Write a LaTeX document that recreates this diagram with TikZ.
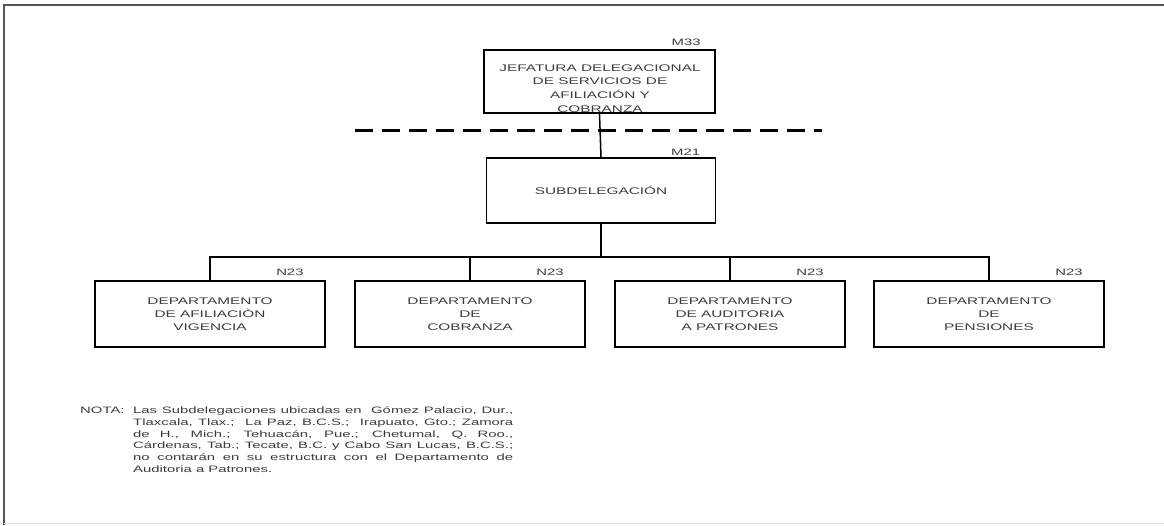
\documentclass[tikz,border=0pt]{standalone}
\usepackage{fontspec}
\setmainfont{Liberation Sans}
\newfontfamily\boxfont[FakeStretch=1.6]{Liberation Sans}
\newfontfamily\notefont[FakeStretch=1.6]{Liberation Sans}
\usetikzlibrary{positioning}
\definecolor{FGray}{RGB}{85,85,85}
\definecolor{TGray}{RGB}{60,60,60}

\begin{document}
\begin{tikzpicture}[
    x=1pt, y=-1pt,
    unit/.style={
      draw,
      line width=1.5pt,
      minimum width=230pt,
      minimum height=65pt,
      inner sep=0pt,
      align=center,
      text=TGray,
      font=\boxfont\fontsize{9.6}{13.3}\selectfont
    },
    unittext/.style={
      inner sep=0pt,
      align=center,
      text=TGray,
      font=\boxfont\fontsize{9.6}{13.7}\selectfont
    },
    level/.style={
      inner sep=0pt,
      text=TGray,
      font=\boxfont\fontsize{9.3}{10}\selectfont
    },
    notetext/.style={
      inner sep=0pt,
      text=TGray,
      font=\notefont\fontsize{9.3}{11.8}\selectfont
    },
    link/.style={line width=1.5pt}
  ]
    \useasboundingbox (0,0) rectangle (1164,525);
    \draw[FGray, line width=2pt] (4,525) -- (4,5) -- (1164,5);
    \draw[black!12, line width=1pt] (4,523) -- (1164,523);

    \node[unit, minimum width=231pt, minimum height=63pt] (jefatura) at (599.5,81.5) {};
    \node[unittext] (jefaturatext) at (600,88.5) {JEFATURA DELEGACIONAL\\DE SERVICIOS DE\\AFILIACIÓN Y\\COBRANZA};
    \node[unit, minimum width=229pt] (subdelegacion) at (601,190.5) {SUBDELEGACIÓN};

    \node[unit, minimum height=66pt] (afiliacion) at (210,314) {DEPARTAMENTO\\DE AFILIACIÒN\\VIGENCIA};
    \node[unit, minimum height=66pt] (cobranza) at (470,314) {DEPARTAMENTO\\DE\\COBRANZA};
    \node[unit, minimum height=66pt] (auditoria) at (730,314) {DEPARTAMENTO\\DE AUDITORIA\\A PATRONES};
    \node[unit, minimum height=66pt] (pensiones) at (989,314) {DEPARTAMENTO\\DE\\PENSIONES};

    \node[level, above left=3pt and 15pt of jefatura.north east] (m33) {M33};
    \node[level, above left=2pt and 16pt of subdelegacion.north east] (m21) {M21};
    \foreach \dept in {afiliacion,cobranza,auditoria,pensiones}
      \node[level, above left=4pt and 22pt of \dept.north east] (n23\dept) {N23};

    % linea de corte
    \coordinate (cutleft) at (355,130);
    \coordinate (cutright) at (822,130);
    \draw[line width=3pt, dash pattern=on 18pt off 9pt] (cutleft) -- (cutright);

    \draw[link] (jefatura.south) -- (subdelegacion.north);
    \draw[link] (subdelegacion.south) -- ++(0,33) coordinate (bus);
    \draw[link] (afiliacion.north) |- (bus) -| (pensiones.north);
    \draw[link] (cobranza.north) -- (cobranza.north |- bus);
    \draw[link] (auditoria.north) -- (auditoria.north |- bus);

    % nota
    \node[notetext, anchor=north west] (nota) at (80,406.5) {NOTA:};
    \node[notetext, anchor=north west, text width=380pt, align=justify] (notabody) at (133,406.5)
      {Las Subdelegaciones ubicadas en~ G\'omez Palacio, Dur.,\linebreak
       Tlaxcala, Tlax.;~ La Paz, B.C.S.;~ Irapuato, Gto.; Zamora\linebreak
       de H., Mich.; Tehuac\'an, Pue.; Chetumal, Q. Roo.,\linebreak
       C\'ardenas, Tab.; Tecate, B.C. y Cabo San Lucas, B.C.S.;\linebreak
       no contar\'an en su estructura con el Departamento de\linebreak
       Auditoria a Patrones.};
\end{tikzpicture}
\end{document}
